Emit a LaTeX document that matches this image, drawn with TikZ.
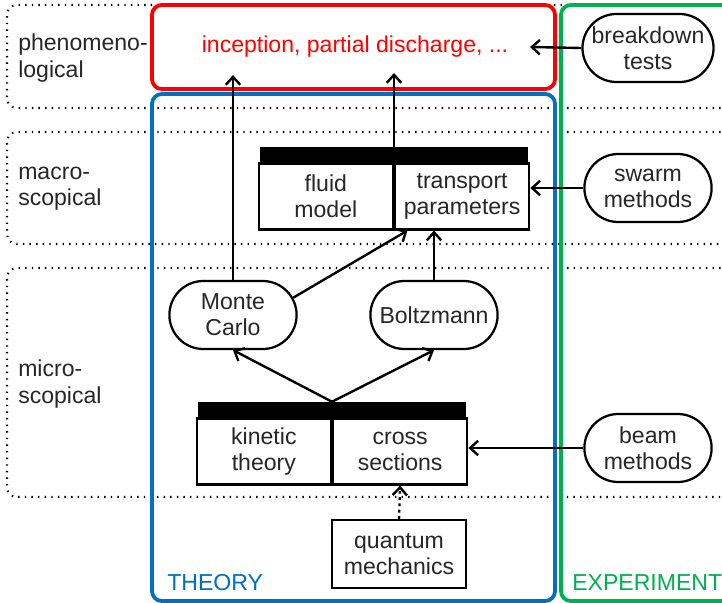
\documentclass[tikz,border=0pt]{standalone}
\usepackage{fontspec}
\setmainfont{Liberation Sans}
\usetikzlibrary{arrows.meta,positioning,shapes.misc}
\definecolor{theoryblue}{RGB}{0,112,192}
\definecolor{exprgreen}{RGB}{0,176,80}
\definecolor{phenred}{RGB}{255,0,0}

\begin{document}
\begin{tikzpicture}[x=0.025cm, y=-0.025cm,
  font=\fontsize{16.4}{18.6}\selectfont, text=black!85,
  band/.style={line width=1.5pt, dash pattern=on 1pt off 3.7pt, rounded corners=7pt},
  group/.style={line width=2.7pt, rounded corners=7pt},
  cell/.style={draw, line width=1.6pt, minimum width=3.35cm, minimum height=1.65cm, align=center, inner sep=1pt},
  bar/.style={fill=black, minimum width=6.7cm, minimum height=0.375cm, inner sep=0pt},
  pill/.style={draw, rounded rectangle, line width=1.6pt, minimum width=3.25cm, minimum height=1.7cm, align=center, inner sep=1pt},
  flow/.style={-{Straight Barb[length=2mm,width=3.6mm]}, line width=1.7pt},
  level/.style={anchor=west, align=left, inner sep=0pt}
]
\useasboundingbox (0,0) rectangle (722,603);
\clip (0,0) rectangle (722,603);

% levels of description
\draw[band] (780,5) -| (7,108) -- (780,108);
\draw[band] (780,132) -| (7,244) -- (780,244);
\draw[band] (780,268) -| (7,497) -- (780,497);
\node[level] (phen) at (18,58) {phenomeno-\\logical};
\node[level] (macro) at (18,188.5) {macro-\\scopical};
\node[level] (micro) at (18,384) {micro-\\scopical};

% theory / experiment frames
\draw[group, phenred] (152,5) rectangle (555,89);
\draw[group, theoryblue] (152,94) rectangle (555,601);
\draw[group, exprgreen] (561,5) rectangle (790,601);
\node[text=theoryblue, anchor=west, inner sep=0pt] (theory) at (167,583) {THEORY};
\node[text=exprgreen, anchor=west, inner sep=0pt] (experiment) at (572,583) {EXPERIMENT};

\node[text=phenred] (effects) at (355,47) {inception, partial discharge, ...};

% macroscopic table
\node[bar] (fluidbar) at (394,154.5) {};
\node[cell, anchor=north east] (fluid) at (fluidbar.south) {fluid\\model};
\node[cell, anchor=north west] (transport) at (fluidbar.south) {transport\\parameters};

% microscopic
\node[pill] (mc) at (233,315) {Monte\\Carlo};
\node[pill] (boltz) at (434,315) {Boltzmann};

\node[bar] (kinbar) at (332,409.5) {};
\node[cell, anchor=north east] (kinetic) at (kinbar.south) {kinetic\\theory};
\node[cell, anchor=north west] (cross) at (kinbar.south) {cross\\sections};

\node[cell, minimum height=1.7cm] (quantum) at (399,554) {quantum\\mechanics};

% experiments
\node[pill] (breakdown) at (648,48) {breakdown\\tests};
\node[pill] (swarm) at (648,188) {swarm\\methods};
\node[pill] (beam) at (648,448) {beam\\methods};

\coordinate (mcin) at (233,75);
\coordinate (fluidin) at (394,73);
\coordinate (testsin) at (530,47);

\draw[flow] (mc.north) -- (mcin);
\draw[flow] (fluidbar.north) -- (fluidin);
\draw[flow] (mc.16) -- (transport.212);
\draw[flow] (boltz.north) -- (boltz.north |- transport.south);
\draw[flow] (kinbar.north) -- (mc.south);
\draw[flow] (kinbar.north) -- (boltz.south);
\draw[flow, dash pattern=on 2pt off 2.5pt] (quantum.north) -- (cross.south);
\draw[flow] (breakdown.west) -- (testsin);
\draw[flow] (swarm.west) -- (swarm.west -| transport.east);
\draw[flow] (beam.west) -- (beam.west -| cross.east);
\end{tikzpicture}
\end{document}
